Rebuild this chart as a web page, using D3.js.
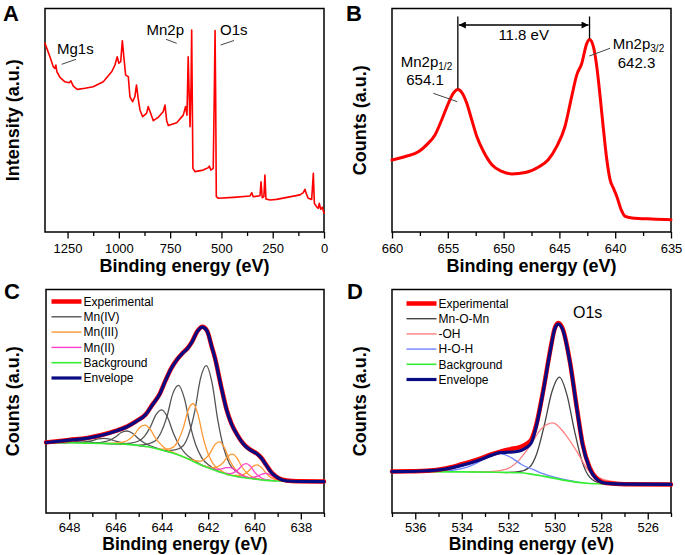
<!DOCTYPE html>
<html><head><meta charset="utf-8">
<script src="https://cdn.jsdelivr.net/npm/d3@7"></script>
<style>body{margin:0;background:#fff}svg{display:block}text{font-family:Arial,"Liberation Sans",sans-serif}</style>
</head><body><svg id="c" width="685" height="555"></svg>
<script>
// ---------- DATA ----------
// Panel A: survey spectrum [binding energy eV, intensity a.u.]
const surveyA = [[1360,84.4],[1336,78.4],[1320,74.0],[1312,73.2],[1307,74.7],[1302,71.7],[1287,69.2],[1263,67.2],[1242,66.8],[1234,67.6],[1222,65.3],[1203,63.8],[1165,64.3],[1125,65.0],[1076,67.2],[1035,71.7],[1019,74.7],[1008,78.4],[1000,75.5],[991,76.2],[983,85.6],[975,77.7],[967,70.2],[954,69.5],[946,60.5],[933,58.3],[922,60.5],[914,65.8],[906,59.8],[897,54.6],[884,51.6],[865,53.1],[857,56.1],[845,53.1],[832,49.8],[808,51.3],[784,53.8],[775,56.8],[767,49.8],[759,47.6],[718,48.9],[686,52.3],[675,56.1],[668,52.3],[662,78.4],[657,60.5],[653,47.1],[648,66.5],[645,90.4],[642,59.1],[639,28.5],[629,27.0],[589,27.7],[564,28.8],[559,29.5],[552,27.7],[540,28.5],[535,60],[531,90.1],[528,60],[525,15.8],[515,15.1],[442,15.5],[361,16.1],[352,17.6],[345,15.8],[312,16.2],[307,22.5],[301,15.3],[293,15.8],[288,25.5],[283,14.8],[263,14.3],[231,14.6],[117,16.6],[101,17.6],[93,19.1],[84,16.6],[77,15.1],[60,14.6],[52,26.3],[47,12.8],[36,11.3],[28,10.6],[23,12.8],[16,10.2],[8,11.1],[0,8.4]];
const ticksA = [1250,1000,750,500,250,0];
const minorA = [1375,1125,875,625,375,125];
const labelsA = ["Mg1s","Mn2p","O1s"];

// Panel B: Mn2p spectrum
const mn2pB = [[660.0,32.2],[658.8,33.8],[657.6,36.0],[656.9,39.0],[656.15,43.4],[655.55,50.1],[654.95,57.6],[654.5,62.1],[654.1,63.8],[653.7,62.1],[653.3,57.6],[652.85,50.1],[652.4,42.7],[651.8,36.0],[651.05,30.1],[650.15,27.1],[649.25,26.0],[648.05,26.6],[646.9,29.0],[646.0,32.3],[645.25,38.2],[644.5,47.2],[643.9,60.6],[643.45,70.2],[643.0,75.4],[642.55,84.3],[642.3,86.1],[641.95,82.8],[641.65,74.0],[641.35,60.6],[641.05,45.8],[640.75,32.3],[640.45,23.2],[640.15,19.5],[639.85,15.8],[639.45,9.8],[639.1,7.0],[638.5,6.3],[636.7,5.8],[635.0,5.5]];
const ticksB = [660,655,650,645,640,635];
const minorB = [657.5,652.5,647.5,642.5,637.5];
const peaksB = [654.1,642.3];

// Panel C: Mn2p3/2 fit
const expC = [[649.0,31.6],[648.0,32.7],[647.2,33.6],[646.6,34.9],[646.0,36.7],[645.5,38.7],[645.1,41.1],[644.7,44.1],[644.4,48.6],[644.1,53.1],[643.85,59.1],[643.6,64.6],[643.35,68.6],[643.1,71.6],[642.9,73.6],[642.7,76.6],[642.45,81.6],[642.25,83.3],[642.05,81.6],[641.85,74.6],[641.7,69.1],[641.45,57.1],[641.2,46.1],[641.0,40.1],[640.75,35.1],[640.45,30.6],[640.15,28.1],[639.9,26.6],[639.7,24.6],[639.5,21.6],[639.3,18.6],[639.1,16.6],[638.8,14.9],[638.4,14.3],[637.0,14.1]];
const envC = [[649.0,31.5],[648.0,32.6],[647.2,33.5],[646.6,34.8],[646.0,36.6],[645.5,38.6],[645.1,41.0],[644.7,44.0],[644.4,48.5],[644.1,53.0],[643.85,59.0],[643.6,64.5],[643.35,68.5],[643.1,71.5],[642.9,73.5],[642.7,76.5],[642.45,81.5],[642.25,83.2],[642.05,81.5],[641.85,74.5],[641.7,69.0],[641.45,57.0],[641.2,46.0],[641.0,40.0],[640.75,35.0],[640.45,30.5],[640.15,28.0],[639.9,26.5],[639.7,24.5],[639.5,21.5],[639.3,18.5],[639.1,16.5],[638.8,14.8],[638.4,14.2],[637.0,14.0]];
const bgC = [[649.0,31.4],[648.0,31.4],[647.0,31.2],[646.0,31.0],[645.5,30.7],[645.0,30.2],[644.5,29.4],[644.0,28.2],[643.5,26.7],[643.0,24.8],[642.5,22.4],[642.0,20.2],[641.5,18.3],[641.0,16.8],[640.5,15.9],[640.0,15.2],[639.5,14.6],[639.0,14.3],[638.5,14.1],[638.0,14.0],[637.0,14.0]];
const mn4C = [
 [[640.28,15.6],[640.73,18.1],[641.08,22.0],[641.33,29.1],[641.58,41.3],[641.83,58.1],[642.08,65.9],[642.33,60.2],[642.58,45.5],[642.83,35.4],[643.08,30.1],[643.43,28.2],[643.88,27.8]],
 [[641.48,18.2],[641.93,21.1],[642.28,24.8],[642.53,30.3],[642.78,39.4],[643.03,51.4],[643.28,57.1],[643.53,53.3],[643.78,43.1],[644.03,36.1],[644.28,32.3],[644.63,30.8],[645.08,30.3]],
 [[642.2,21.0],[642.65,23.8],[643.0,26.8],[643.25,30.3],[643.5,35.7],[643.75,42.7],[644.0,46.1],[644.25,44.0],[644.5,38.4],[644.75,34.3],[645.0,32.2],[645.35,31.3],[645.8,30.9]],
 [[643.7,27.3],[644.15,28.8],[644.5,30.1],[644.75,31.3],[645.0,33.2],[645.25,35.6],[645.5,36.7],[645.75,36.0],[646.0,34.0],[646.25,32.55],[646.5,31.8],[646.85,31.35],[647.3,31.3]],
 [[644.7,29.7],[645.15,30.4],[645.5,30.95],[645.75,31.5],[646.0,32.15],[646.25,33.05],[646.5,33.4],[646.75,33.15],[647.0,32.35],[647.25,31.85],[647.5,31.55],[647.85,31.5],[648.3,31.4]],
 [[645.6,30.8],[646.4,31.1],[646.9,31.4],[647.15,32.0],[647.4,32.3],[647.65,32.1],[647.9,31.6],[648.4,31.4],[649.0,31.4]]
];
const mn3C = [
 [[641.12,17.1],[641.50,19.3],[641.80,22.2],[642.01,26.7],[642.225,34.1],[642.44,44.1],[642.65,49.0],[642.86,46.1],[643.075,38.1],[643.29,32.5],[643.50,29.5],[643.80,28.6],[644.18,28.7]],
 [[643.11,25.3],[643.515,27.1],[643.83,28.7],[644.055,30.8],[644.28,33.65],[644.505,37.5],[644.73,39.3],[644.955,38.3],[645.18,35.15],[645.405,33.0],[645.63,31.8],[645.945,31.4],[646.35,31.1]],
 [[639.97,15.2],[640.35,16.2],[640.65,17.7],[640.86,20.0],[641.075,23.75],[641.29,29.0],[641.5,31.8],[641.71,30.6],[641.925,26.65],[642.14,24.2],[642.35,23.2],[642.65,23.6],[643.03,24.9]],
 [[639.51,14.6],[639.87,15.4],[640.15,16.45],[640.35,18.1],[640.55,20.8],[640.75,24.5],[640.95,26.3],[641.15,25.4],[641.35,22.6],[641.55,20.9],[641.75,20.25],[642.03,20.7],[642.39,21.9]],
 [[638.53,14.1],[638.87,14.5],[639.12,15.05],[639.32,16.05],[639.505,17.85],[639.69,20.3],[639.88,21.55],[640.07,20.8],[640.255,18.8],[640.44,17.4],[640.63,16.85],[640.89,16.85],[641.23,17.3]]
];
const mn2C = [
 [[639.70,14.8],[640.04,15.4],[640.29,15.95],[640.49,16.75],[640.675,17.9],[640.86,19.5],[641.05,20.3],[641.24,20.3],[641.425,19.7],[641.61,19.55],[641.80,19.75],[642.06,20.55],[642.40,22.0]],
 [[639.09,14.35],[639.405,14.76],[639.65,15.45],[639.825,16.55],[640.0,18.4],[640.175,20.9],[640.35,22.1],[640.525,21.4],[640.7,19.45],[640.875,18.2],[641.05,17.6],[641.295,17.8],[641.61,18.7]],
 [[638.24,14.05],[638.555,14.22],[638.80,14.54],[638.975,15.08],[639.15,15.9],[639.325,17.05],[639.5,17.7],[639.675,17.4],[639.85,16.55],[640.025,16.03],[640.2,15.84],[640.445,15.92],[640.76,16.3]]
];
const ticksC = [648,646,644,642,640,638];
const minorC = [647,645,643,641,639,637];
const legendC = ["Experimental","Mn(IV)","Mn(III)","Mn(II)","Background","Envelope"];

// Panel D: O1s fit
const expD = [[537,18.6],[536.2,18.7],[535.5,18.9],[534.7,19.9],[534.0,21.8],[533.3,24.0],[532.7,26.3],[532.3,27.6],[531.9,28.6],[531.5,29.5],[531.2,31.0],[531.0,33.0],[530.8,39.2],[530.5,54.6],[530.2,72.5],[530.0,82.6],[529.85,85.0],[529.65,82.2],[529.35,67.8],[529.05,47.0],[528.8,30.8],[528.5,20.3],[528.15,15.0],[527.8,13.4],[527.0,12.9],[525.0,12.8]];
const envD = [[537,18.5],[535.7,18.8],[534.7,19.7],[534.0,21.3],[533.3,23.5],[532.7,25.9],[532.35,27.0],[532.0,27.2],[531.7,27.4],[531.45,28.0],[531.2,29.4],[531.0,31.6],[530.8,38.5],[530.5,54.2],[530.2,72.1],[530.0,82.3],[529.85,84.5],[529.65,81.8],[529.35,67.6],[529.05,46.8],[528.8,30.4],[528.5,20.0],[528.15,14.8],[527.8,13.3],[527.0,12.9],[525.0,12.8]];
const bgD = [[537,18.5],[534,18.4],[532.5,18.2],[531.5,18.0],[531,17.4],[530.5,16.5],[530,15.5],[529.5,14.5],[529,13.7],[528.5,13.2],[528,12.95],[527,12.85],[525,12.8]];
const mnomnD = [[527.46,12.85],[528.045,13.43],[528.5,16.06],[528.825,23.1],[529.15,36.75],[529.475,52.85],[529.8,60.8],[530.125,54.15],[530.45,39.25],[530.775,26.55],[531.1,20.36],[531.555,18.46],[532.14,18.1]];
const ohD = [[526.48,12.8],[527.38,13.85],[528.08,15.7],[528.58,19.45],[529.08,28.0],[529.58,35.65],[530.08,40.35],[530.58,37.65],[531.08,29.85],[531.58,23.2],[532.08,19.6],[532.78,18.5],[533.68,18.4]];
const hohD = [[528.95,13.7],[529.805,15.45],[530.445,17.35],[530.92,19.4],[531.395,21.5],[531.87,24.8],[532.37,26.65],[532.845,25.45],[533.32,22.55],[533.795,20.45],[534.27,19.35],[534.935,18.75],[535.79,18.45]];
const ticksD = [536,534,532,530,528,526];
const minorD = [537,535,533,531,529,527,525];
const legendD = ["Experimental","Mn-O-Mn","-OH","H-O-H","Background","Envelope"];

// ---------- DRAWING ----------
const svg = d3.select("#c");
const defs = svg.append("defs");
defs.append("marker").attr("id","arr").attr("viewBox","0 0 10 10").attr("refX",10).attr("refY",5)
  .attr("markerWidth",8).attr("markerHeight",7).attr("markerUnits","userSpaceOnUse").attr("orient","auto-start-reverse")
  .append("path").attr("d","M0,0L10,5L0,10z").attr("fill","#000");

function panel(p){
  const x = d3.scaleLinear().domain(p.xDomain).range([p.x0,p.x1]);
  const y = d3.scaleLinear().domain([0,100]).range([p.y1,p.y0]);
  const g = svg.append("g");
  const lo=Math.min(...p.xDomain), hi=Math.max(...p.xDomain);
  const ax1 = g.append("g").attr("transform",`translate(0,${p.y1})`)
    .call(d3.axisBottom(x).tickValues(p.minor.filter(v=>v>=lo&&v<=hi)).tickSize(4).tickSizeOuter(0).tickFormat(""));
  const ax2 = g.append("g").attr("transform",`translate(0,${p.y1})`)
    .call(d3.axisBottom(x).tickValues(p.major).tickSize(6.5).tickSizeOuter(0).tickPadding(p.tickPad).tickFormat(d3.format("d")));
  [ax1,ax2].forEach(a=>{a.select(".domain").remove();a.selectAll("line").attr("stroke","#000").attr("stroke-width",1.3);});
  ax2.selectAll("text").attr("font-size",13).attr("fill","#000").attr("font-family",'Arial,"Liberation Sans",sans-serif');
  g.append("rect").attr("x",p.x0).attr("y",p.y0).attr("width",p.x1-p.x0).attr("height",p.y1-p.y0)
    .attr("fill","none").attr("stroke","#000").attr("stroke-width",1.5);
  g.append("text").attr("x",(p.x0+p.x1)/2).attr("y",p.titleY).attr("text-anchor","middle")
    .attr("font-size",p.titleSize).attr("font-weight","bold").text("Binding energy (eV)");
  g.append("text").attr("transform",`translate(${p.yTitleX},${(p.y0+p.y1)/2}) rotate(-90)`).attr("text-anchor","middle")
    .attr("font-size",18).attr("font-weight","bold").text(p.yTitle);
  g.append("text").attr("x",p.letterX).attr("y",p.letterY).attr("font-size",22).attr("font-weight","bold").text(p.letter);
  const draw = (data,color,w,curve)=>{
    const d = data.slice().sort((a,b)=>x(a[0])-x(b[0]));
    g.append("path").attr("d",d3.line().x(v=>x(v[0])).y(v=>y(v[1])).curve(curve||d3.curveMonotoneX)(d))
      .attr("fill","none").attr("stroke",color).attr("stroke-width",w).attr("stroke-linejoin","round").attr("stroke-linecap","round");
  };
  return {x,y,g,draw};
}

// Panel A
{
  const P = panel({xDomain:[1360,0],x0:45,x1:324,y0:8.5,y1:232,major:ticksA,minor:minorA,tickPad:5.5,titleY:271.5,titleSize:18,yTitleX:18.5,yTitle:"Intensity (a.u.)",letter:"A",letterX:3,letterY:21});
  P.draw(surveyA,"#ff0000",1.6,d3.curveLinear);
  const g=P.g;
  const lbl=[[57,54,labelsA[0]],[146.5,35,labelsA[1]],[220,35,labelsA[2]]];
  lbl.forEach(l=>g.append("text").attr("x",l[0]).attr("y",l[1]).attr("font-size",15).text(l[2]));
  [[61.7,64.3,76,59.3],[166,39.3,176.7,43.3],[220.7,45,234,40.5]].forEach(s=>
    g.append("line").attr("x1",s[0]).attr("y1",s[1]).attr("x2",s[2]).attr("y2",s[3]).attr("stroke","#444").attr("stroke-width",1));
}
// Panel B
{
  const P = panel({xDomain:[660,635],x0:392,x1:671,y0:8.5,y1:232,major:ticksB,minor:minorB,tickPad:5.5,titleY:271.5,titleSize:18,yTitleX:366,yTitle:"Counts (a.u.)",letter:"B",letterX:346,letterY:21});
  P.draw(mn2pB,"#ff0000",3);
  const g=P.g, x=P.x, y=P.y;
  const peakVal = v=> mn2pB.find(d=>d[0]===v)[1];
  peaksB.forEach(v=>g.append("line").attr("x1",x(v)).attr("x2",x(v)).attr("y1",16.5).attr("y2",y(peakVal(v))-1).attr("stroke","#000").attr("stroke-width",1.3));
  g.append("line").attr("x1",x(peaksB[0])+1).attr("x2",x(peaksB[1])-1).attr("y1",25).attr("y2",25)
    .attr("stroke","#000").attr("stroke-width",1.3).attr("marker-start","url(#arr)").attr("marker-end","url(#arr)");
  g.append("text").attr("x",(x(peaksB[0])+x(peaksB[1]))/2).attr("y",39.5).attr("text-anchor","middle").attr("font-size",15)
    .text((peaksB[0]-peaksB[1]).toFixed(1)+" eV");
  const t1=g.append("text").attr("x",426.5).attr("y",66.5).attr("text-anchor","middle").attr("font-size",15);
  t1.append("tspan").text("Mn2p"); t1.append("tspan").attr("font-size",10).attr("dy",3.5).text("1/2");
  g.append("text").attr("x",425).attr("y",85).attr("text-anchor","middle").attr("font-size",15).text(peaksB[0].toFixed(1));
  const t2=g.append("text").attr("x",638.5).attr("y",48.5).attr("text-anchor","middle").attr("font-size",15);
  t2.append("tspan").text("Mn2p"); t2.append("tspan").attr("font-size",10).attr("dy",3.5).text("3/2");
  g.append("text").attr("x",636.5).attr("y",67.5).attr("text-anchor","middle").attr("font-size",15).text(peaksB[1].toFixed(1));
  [[433.3,93.3,457.3,101.7],[589.3,56,610,48.3]].forEach(s=>
    g.append("line").attr("x1",s[0]).attr("y1",s[1]).attr("x2",s[2]).attr("y2",s[3]).attr("stroke","#444").attr("stroke-width",1));
}
// Panel C
{
  const P = panel({xDomain:[649,637],x0:46,x1:324,y0:289.5,y1:513,major:ticksC,minor:minorC,tickPad:3,titleY:550,titleSize:17.5,yTitleX:18.5,yTitle:"Counts (a.u.)",letter:"C",letterX:4,letterY:299});
  const cols=["#ff0000","#555555","#ff9933","#ff40c8","#33ee33","#0a0a82"];
  const wid=[4.5,1.4,1.4,1.4,1.6,3.2];
  mn4C.forEach(d=>P.draw(d,cols[1],1.3));
  mn3C.forEach(d=>P.draw(d,cols[2],1.3));
  mn2C.forEach(d=>P.draw(d,cols[3],1.3));
  P.draw(bgC,cols[4],1.6);
  P.draw(expC,cols[0],4.5);
  P.draw(envC,cols[5],3.2);
  legendC.forEach((t,i)=>{
    const yy=301.5+15.3*i;
    P.g.append("line").attr("x1",51.5).attr("x2",81.5).attr("y1",yy).attr("y2",yy).attr("stroke",cols[i]).attr("stroke-width",wid[i]);
    P.g.append("text").attr("x",83.5).attr("y",yy+4.2).attr("font-size",12).text(t);
  });
}
// Panel D
{
  const P = panel({xDomain:[537,525],x0:392,x1:671,y0:289.5,y1:513,major:ticksD,minor:minorD,tickPad:3,titleY:550,titleSize:17.5,yTitleX:366,yTitle:"Counts (a.u.)",letter:"D",letterX:347,letterY:299});
  const cols=["#ff0000","#444444","#ff7f7f","#6f84ff","#33ee33","#0a0a82"];
  const wid=[4.5,1.4,1.4,1.4,1.6,3.2];
  P.draw(mnomnD,cols[1],1.3);
  P.draw(ohD,cols[2],1.3);
  P.draw(hohD,cols[3],1.3);
  P.draw(bgD,cols[4],1.6);
  P.draw(expD,cols[0],4.5);
  P.draw(envD,cols[5],3.2);
  legendD.forEach((t,i)=>{
    const yy=303.5+15.2*i;
    P.g.append("line").attr("x1",406.5).attr("x2",436.5).attr("y1",yy).attr("y2",yy).attr("stroke",cols[i]).attr("stroke-width",wid[i]);
    P.g.append("text").attr("x",438.5).attr("y",yy+4.2).attr("font-size",12).text(t);
  });
  P.g.append("text").attr("x",573).attr("y",318).attr("font-size",16).text("O1s");
}
</script></body></html>
